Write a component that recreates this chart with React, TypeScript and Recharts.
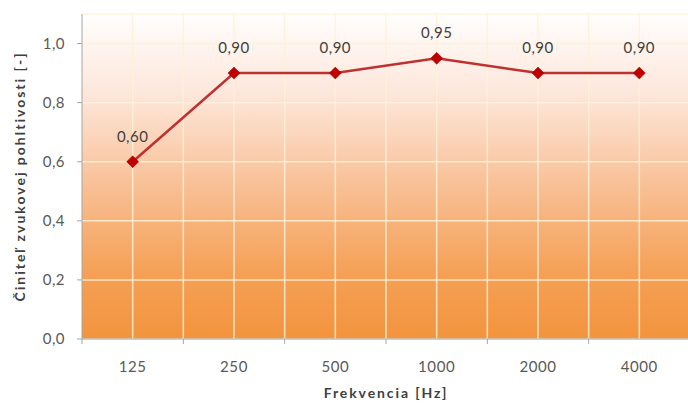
import React from "react";
import {
  LineChart,
  Line,
  XAxis,
  YAxis,
  CartesianGrid,
  LabelList,
} from "recharts";

// Frequencies (Hz) and sound absorption coefficient
const frequencies = ["125", "250", "500", "1000", "2000", "4000"];
const absorption = [0.6, 0.9, 0.9, 0.95, 0.9, 0.9];
const yTicks = [0, 0.2, 0.4, 0.6, 0.8, 1.0];

const chartData = frequencies.map((f, i) => ({ freq: f, value: absorption[i] }));

const CHART_W = 690;
const CHART_H = 405;
const Y_AXIS_W = 82;
const PLOT_W = CHART_W - Y_AXIS_W;
const BAND = PLOT_W / frequencies.length;

const FONT = "Lato, 'Open Sans', sans-serif";
const TEXT = "#595959";
const AXIS = "#a6a6a6";

const comma = (v: number, digits: number) => v.toFixed(digits).replace(".", ",");

const Diamond = (props: any) => {
  const { cx, cy } = props;
  if (cx == null || cy == null) return null;
  const r = 6;
  return (
    <polygon
      points={`${cx},${cy - r} ${cx + r},${cy} ${cx},${cy + r} ${cx - r},${cy}`}
      fill="#c00000"
      stroke="#a00000"
      strokeWidth={0.5}
    />
  );
};

const FreqTick = (props: any) => {
  const { x, y, payload } = props;
  return (
    <g>
      <line x1={x - BAND / 2} y1={y - 8} x2={x - BAND / 2} y2={y - 3} stroke={AXIS} />
      <text
        x={x}
        y={y + 25}
        textAnchor="middle"
        fill={TEXT}
        fontSize={15}
        letterSpacing={0.6}
        fontFamily={FONT}
      >
        {payload.value}
      </text>
    </g>
  );
};

const YTitle = (props: any) => {
  const { viewBox } = props;
  const cy = viewBox.y + viewBox.height / 2;
  return (
    <text
      x={19}
      y={cy}
      transform={`rotate(-90, 19, ${cy})`}
      textAnchor="middle"
      dominantBaseline="central"
      fill="#404040"
      fontSize={14}
      fontWeight="bold"
      letterSpacing={2}
      fontFamily={FONT}
    >
      Činiteľ zvukovej pohltivosti [-]
    </text>
  );
};

const XTitle = (props: any) => {
  const { viewBox } = props;
  return (
    <text
      x={viewBox.x + viewBox.width / 2}
      y={viewBox.y + 59}
      textAnchor="middle"
      fill="#404040"
      fontSize={14}
      fontWeight="bold"
      letterSpacing={1.9}
      fontFamily={FONT}
    >
      Frekvencia [Hz]
    </text>
  );
};

const halfBandLines = ({ offset }: any) => {
  const n = frequencies.length * 2;
  const step = offset.width / n;
  const out: number[] = [];
  for (let i = 1; i <= n; i++) out.push(offset.left + i * step);
  return out;
};

export default function App() {
  return (
    <div
      style={{
        position: "fixed",
        left: 0,
        top: 0,
        width: 688,
        height: 405,
        overflow: "hidden",
        background: "#ffffff",
      }}
    >
      <LineChart
        width={CHART_W}
        height={CHART_H}
        data={chartData}
        margin={{ top: 14, right: 0, left: 0, bottom: 0 }}
      >
        <defs>
          <linearGradient id="bg" x1="0" y1="0" x2="0" y2="1">
            <stop offset="0%" stopColor="#fffefd" />
            <stop offset="25%" stopColor="#fde6da" />
            <stop offset="55%" stopColor="#f8bd90" />
            <stop offset="80%" stopColor="#f5a055" />
            <stop offset="100%" stopColor="#f3943e" />
          </linearGradient>
        </defs>
        <CartesianGrid
          fill="url(#bg)"
          stroke="#fff1d8"
          strokeOpacity={0.85}
          strokeWidth={1.5}
          verticalCoordinatesGenerator={halfBandLines}
        />
        <XAxis
          dataKey="freq"
          scale="band"
          height={66}
          axisLine={{ stroke: AXIS }}
          tickLine={false}
          tick={<FreqTick />}
          interval={0}
          label={<XTitle />}
        />
        <YAxis
          width={Y_AXIS_W}
          domain={[0, 1.1]}
          ticks={yTicks}
          tickFormatter={(v: number) => comma(v, 1)}
          axisLine={{ stroke: AXIS }}
          tickLine={{ stroke: AXIS }}
          tickSize={5}
          tickMargin={12}
          tick={{ fill: TEXT, fontSize: 15, fontFamily: FONT, letterSpacing: 0.5 }}
          label={<YTitle />}
        />
        <Line
          type="linear"
          dataKey="value"
          stroke="#c0302f"
          strokeWidth={2.5}
          dot={<Diamond />}
          activeDot={false}
          isAnimationActive={false}
        >
          <LabelList
            dataKey="value"
            position="top"
            offset={20}
            formatter={(v: any) => comma(Number(v), 2)}
            style={{ fill: "#404040", fontSize: 15, fontFamily: FONT, letterSpacing: 0.5 }}
          />
        </Line>
      </LineChart>
    </div>
  );
}
